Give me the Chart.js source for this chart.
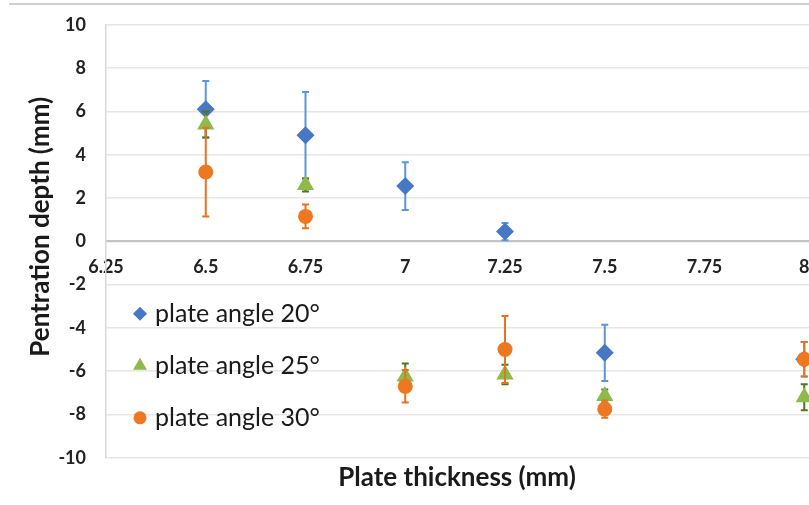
<!DOCTYPE html>
<html>
<head>
<meta charset="utf-8">
<script src="https://cdn.jsdelivr.net/npm/chart.js@4/dist/chart.umd.min.js"></script>
<style>
  html, body { margin: 0; padding: 0; background: #fff; overflow: hidden; }
  #wrap { position: relative; width: 809px; height: 505px; overflow: hidden; }
  #frame { position: absolute; top: 3px; left: 9px; width: 900px; border-top: 2px solid #cfcfcf; }
  canvas { position: absolute; top: -6px; left: 0; }
</style>
</head>
<body>
<div id="wrap">
  <canvas id="chart" width="914" height="511"></canvas>
  <div id="frame"></div>
</div>
<script>
const thickness = [6.5, 6.75, 7, 7.25, 7.5, 8];

const depth20 = [6.1, 4.9, 2.55, 0.45, -5.15, -5.45];
const err20 = [1.3, 2.0, 1.1, 0.4, 1.3, 0.8];

const depth25 = [5.4, 2.6, -6.25, -6.15, -7.15, -7.2];
const err25 = [0.6, 0.3, 0.6, 0.45, 0.3, 0.6];

const depth30 = [3.2, 1.15, -6.7, -5.0, -7.75, -5.45];
const err30 = [2.05, 0.55, 0.75, 1.55, 0.4, 0.8];

const seriesNames = ['plate angle 20°', 'plate angle 25°', 'plate angle 30°'];
const xTicks = [6.25, 6.5, 6.75, 7, 7.25, 7.5, 7.75, 8];
const yTitle = 'Pentration depth (mm)';
const xTitle = 'Plate thickness (mm)';

function points(ys) {
    return thickness.map((x, i) => ({ x: x, y: ys[i] }));
}

const datasets = [
    {
        label: seriesNames[0],
        data: points(depth20),
        errors: err20,
        errorColor: '#5b95dc',
        pointStyle: 'rectRot',
        pointRadius: 9,
        backgroundColor: '#4678c6',
        borderColor: '#4678c6',
        borderWidth: 0,
        order: 3
    },
    {
        label: seriesNames[1],
        data: points(depth25),
        errors: err25,
        errorColor: '#56731f',
        pointStyle: 'triangle',
        pointRadius: 10,
        backgroundColor: '#8dba4a',
        borderColor: '#8dba4a',
        borderWidth: 0,
        order: 2
    },
    {
        label: seriesNames[2],
        data: points(depth30),
        errors: err30,
        errorColor: '#e8731f',
        pointStyle: 'circle',
        pointRadius: 7.5,
        backgroundColor: '#ee7722',
        borderColor: '#ee7722',
        borderWidth: 0,
        order: 1
    }
];

// vertical error bars with caps, drawn under each series' markers
const errorBars = {
    id: 'errorBars',
    beforeDatasetDraw(chart, args) {
        const ds = chart.data.datasets[args.index];
        const yScale = chart.scales.y;
        const ctx = chart.ctx;
        ctx.save();
        ctx.strokeStyle = ds.errorColor;
        ctx.lineWidth = 2;
        args.meta.data.forEach((pt, i) => {
            const v = ds.data[i].y;
            const e = ds.errors[i];
            const top = yScale.getPixelForValue(v + e);
            const bot = yScale.getPixelForValue(v - e);
            ctx.beginPath();
            ctx.moveTo(pt.x, top);
            ctx.lineTo(pt.x, bot);
            ctx.moveTo(pt.x - 3.5, top);
            ctx.lineTo(pt.x + 3.5, top);
            ctx.moveTo(pt.x - 3.5, bot);
            ctx.lineTo(pt.x + 3.5, bot);
            ctx.stroke();
        });
        ctx.restore();
    }
};

function marker(ctx, style, x, y, r) {
    ctx.beginPath();
    if (style === 'rectRot') {
        ctx.moveTo(x, y - r);
        ctx.lineTo(x + r, y);
        ctx.lineTo(x, y + r);
        ctx.lineTo(x - r, y);
    } else if (style === 'triangle') {
        ctx.moveTo(x, y - r);
        ctx.lineTo(x + r * 0.87, y + r * 0.5);
        ctx.lineTo(x - r * 0.87, y + r * 0.5);
    } else {
        ctx.arc(x, y, r, 0, Math.PI * 2);
    }
    ctx.closePath();
    ctx.fill();
}

// legend inside the plot (lower left) and the y title, which sits a bit above centre
const overlay = {
    id: 'overlay',
    afterDraw(chart) {
        const ctx = chart.ctx;
        const area = chart.chartArea;
        const sizes = [7, 8, 6.5];
        ctx.save();
        ctx.font = '25px Lato';
        ctx.textBaseline = 'middle';
        chart.data.datasets.forEach((ds, i) => {
            const y = area.top + 289 + i * 52;
            ctx.fillStyle = ds.backgroundColor;
            marker(ctx, ds.pointStyle, 140, y, sizes[i]);
            ctx.fillStyle = '#1a1a1a';
            ctx.fillText(ds.label, 155, y);
        });
        ctx.translate(41, area.top + 202);
        ctx.rotate(-Math.PI / 2);
        ctx.textAlign = 'center';
        ctx.font = 'bold 26px Lato';
        ctx.fillText(yTitle, 0, 0);
        ctx.restore();
    }
};

const options = {
    responsive: false,
    animation: false,
    layout: {
        padding: { top: 18, right: 0, left: 0, bottom: 0 }
    },
    scales: {
        x: {
            type: 'linear',
            position: { y: 0 },
            min: 6.25,
            max: 8.25,
            afterBuildTicks: (scale) => {
                scale.ticks = xTicks.map(v => ({ value: v }));
            },
            ticks: {
                padding: 15,
                color: '#222',
                font: { family: 'Lato', size: 18, weight: 'bold' },
                callback: (v) => String(v)
            },
            grid: { display: false, drawTicks: false },
            border: { color: '#c4c4c4', width: 2 }
        },
        y: {
            position: 'left',
            min: -10,
            max: 10,
            afterFit: (scale) => { scale.width = 106; },
            ticks: {
                stepSize: 2,
                padding: 20,
                color: '#222',
                font: { family: 'Lato', size: 18, weight: 'bold' }
            },
            grid: { color: '#e6e6e6', lineWidth: 1.5, drawTicks: false },
            border: { color: '#d9d9d9', width: 1.5 }
        }
    },
    plugins: {
        legend: { display: false },
        tooltip: { enabled: false },
        title: {
            display: true,
            position: 'bottom',
            text: xTitle,
            color: '#1a1a1a',
            font: { family: 'Lato', size: 26, weight: 'bold' },
            padding: { top: 4, bottom: 12 }
        }
    }
};

const config = {
    type: 'scatter',
    data: { datasets: datasets },
    options: options,
    plugins: [errorBars, overlay]
};

const chart = new Chart(
    document.getElementById('chart'),
    config
);
</script>
</body>
</html>
